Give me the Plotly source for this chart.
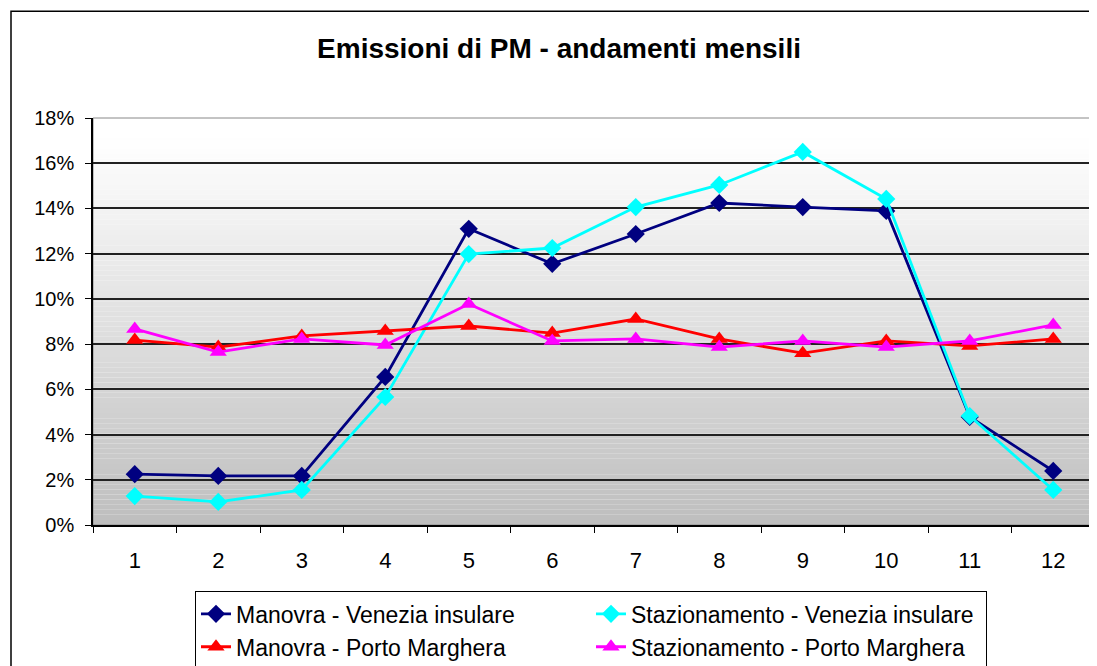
import plotly.graph_objects as go

months = [str(m) for m in range(1, 13)]
manovra_venezia = [2.25, 2.17, 2.17, 6.55, 13.1, 11.55, 12.87, 14.24, 14.06, 13.89, 4.78, 2.39]
staz_venezia = [1.28, 1.02, 1.55, 5.66, 11.98, 12.25, 14.06, 15.04, 16.5, 14.42, 4.82, 1.55]
manovra_marghera = [8.18, 7.87, 8.36, 8.58, 8.8, 8.49, 9.11, 8.23, 7.6, 8.14, 7.92, 8.23]
staz_marghera = [8.67, 7.65, 8.23, 7.96, 9.77, 8.14, 8.23, 7.87, 8.14, 7.87, 8.14, 8.85]

names = ["Manovra - Venezia insulare", "Stazionamento - Venezia insulare",
         "Manovra - Porto Marghera", "Stazionamento - Porto Marghera"]
colors = ["#000080", "#00FFFF", "#FF0000", "#FF00FF"]
symbols = ["diamond", "diamond", "triangle-up", "triangle-up"]
series = [manovra_venezia, staz_venezia, manovra_marghera, staz_marghera]

y_ticks = list(range(0, 19, 2))
y_ticklabels = [f"{v}%" for v in y_ticks]

FONT = "Liberation Sans, Arial, sans-serif"

# page body has an 8px margin; figure is sized/placed to compensate
W, H = 1089, 658
L, R, T = 85, 1087, 110
B = 517.5
PW = R - L
PH = B - T

fig = go.Figure()
for name, col, sym, vals in zip(names, colors, symbols, series):
    fig.add_trace(go.Scatter(
        x=months, y=vals, name=name, mode="lines+markers",
        line=dict(color=col, width=2.8),
        marker=dict(symbol=sym, size=14 if sym == "diamond" else 15, color=col),
    ))

# gradient background bands (white at top to silver at bottom)
shapes = []
n = 80
ymax = 18.0
for i in range(n):
    y0 = ymax * i / n
    y1 = ymax * (i + 1) / n
    t = (i + 0.5) / n  # 0 bottom, 1 top
    c = int(round(190 + (255 - 190) * min(1.0, t * 1.05)))
    shapes.append(dict(type="rect", xref="paper", yref="y", x0=0, x1=1, y0=y0, y1=y1,
                       fillcolor=f"rgb({c},{c},{c})", line=dict(width=0), layer="below"))
# outer chart border
shapes.append(dict(type="rect", xref="paper", yref="paper",
                   x0=(3 - L) / PW, x1=1.05, y0=-0.5, y1=(B - 3) / PH,
                   line=dict(color="black", width=1.5), fillcolor="rgba(0,0,0,0)", layer="above"))
# plot area frame
shapes.append(dict(type="rect", xref="paper", yref="paper", x0=0, x1=1, y0=0, y1=1,
                   line=dict(color="#888888", width=1), fillcolor="rgba(0,0,0,0)", layer="below"))

fig.update_layout(
    width=W, height=H,
    margin=dict(l=L, r=W - R, t=T, b=H - B, autoexpand=False),
    paper_bgcolor="white", plot_bgcolor="white",
    font=dict(family=FONT, size=20, color="black"),
    title=dict(text="<b>Emissioni di PM - andamenti mensili</b>", x=551 / W, xref="container",
               xanchor="center", y=1 - 40 / H, yanchor="middle", font=dict(size=28, family=FONT)),
    showlegend=True,
    legend=dict(orientation="h", x=(187 - L) / PW, xanchor="left",
                y=(B - 584) / PH, yanchor="top",
                entrywidth=350, entrywidthmode="pixels",
                bordercolor="black", borderwidth=1, bgcolor="white",
                font=dict(size=23, family=FONT), tracegroupgap=0),
    shapes=shapes,
    xaxis=dict(type="category", showgrid=False, showline=True, linecolor="black", linewidth=1.5,
               ticks="outside", ticklen=6, tickcolor="black", tickson="boundaries",
               ticklabelstandoff=15, tickfont=dict(size=22), zeroline=False,
               range=[-0.5, 11.5]),
    yaxis=dict(range=[0, 18], tickvals=y_ticks, ticktext=y_ticklabels,
               showgrid=True, gridcolor="#222222", gridwidth=1.5,
               showline=True, linecolor="black", linewidth=1.5,
               ticks="outside", ticklen=6, tickcolor="black",
               ticklabelstandoff=7, tickfont=dict(size=20), zeroline=False),
)

fig.write_html("out.html")
